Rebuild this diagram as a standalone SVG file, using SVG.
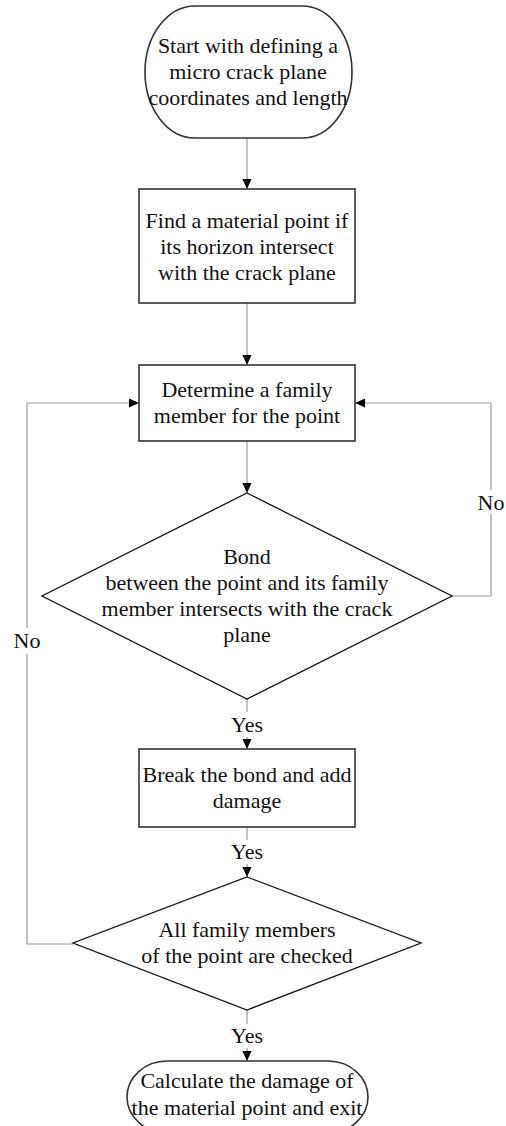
<svg xmlns="http://www.w3.org/2000/svg" width="506" height="1126" viewBox="0 0 506 1126">
<defs>
<marker id="arr" markerUnits="userSpaceOnUse" markerWidth="10" markerHeight="10" refX="10" refY="5" orient="auto">
<path d="M0,0.5 L10,5 L0,9.5 z" fill="#000"/>
</marker>
<style>
.node{fill:#fff;stroke:#333;stroke-width:1.6}
.dia{fill:#fff;stroke:#111;stroke-width:1.3}
.t{font-family:"Liberation Serif","Times New Roman",serif;font-size:22px;fill:#111;text-anchor:middle}
.c{fill:none;stroke:#999;stroke-width:1.2}
.ca{fill:none;stroke:#999;stroke-width:1.2;marker-end:url(#arr)}
</style>
</defs>
<rect width="506" height="1126" fill="#fff"/>
<g id="connectors">
<line class="ca" x1="247" y1="138" x2="247" y2="189"/>
<line class="ca" x1="247" y1="303" x2="247" y2="365"/>
<line class="ca" x1="247" y1="441" x2="247" y2="493"/>
<line class="c" x1="247" y1="699" x2="247" y2="712"/>
<line class="ca" x1="247" y1="737" x2="247" y2="749"/>
<line class="c" x1="247" y1="827" x2="247" y2="840"/>
<line class="ca" x1="247" y1="864" x2="247" y2="877"/>
<line class="c" x1="247" y1="1010" x2="247" y2="1024"/>
<line class="ca" x1="247" y1="1048" x2="247" y2="1061"/>
<polyline class="c" points="452,596 491,596 491,514"/>
<polyline class="ca" points="491,490 491,403 355,403"/>
<polyline class="c" points="73,944 27,944 27,654"/>
<polyline class="ca" points="27,628 27,403 139,403"/>
<text class="t" x="247" y="732">Yes</text>
<text class="t" x="247" y="859">Yes</text>
<text class="t" x="247" y="1043">Yes</text>
<text class="t" x="491" y="510">No</text>
<text class="t" x="27" y="648">No</text>
</g>
<g id="start">
<rect class="node" x="145" y="6" width="207" height="132" rx="50" ry="66"/>
<text class="t" x="248" y="53">Start with defining a</text>
<text class="t" x="248" y="79">micro crack plane</text>
<text class="t" x="248" y="105">coordinates and length</text>
</g>
<g id="find">
<rect class="node" x="139" y="189" width="216" height="114"/>
<text class="t" x="247" y="228">Find a material point if</text>
<text class="t" x="247" y="254">its horizon intersect</text>
<text class="t" x="247" y="280">with the crack plane</text>
</g>
<g id="determine">
<rect class="node" x="139" y="365" width="216" height="76"/>
<text class="t" x="247" y="397">Determine a family</text>
<text class="t" x="247" y="423">member for the point</text>
</g>
<g id="bond">
<polygon class="dia" points="247,493 452,596 247,699 42,596"/>
<text class="t" x="247" y="564">Bond</text>
<text class="t" x="247" y="590">between the point and its family</text>
<text class="t" x="247" y="616">member intersects with the crack</text>
<text class="t" x="247" y="642">plane</text>
</g>
<g id="break">
<rect class="node" x="139" y="749" width="216" height="78"/>
<text class="t" x="247" y="782">Break the bond and add</text>
<text class="t" x="247" y="808">damage</text>
</g>
<g id="checked">
<polygon class="dia" points="247,877 421,943 247,1010 73,943"/>
<text class="t" x="247" y="937">All family members</text>
<text class="t" x="247" y="963">of the point are checked</text>
</g>
<g id="end">
<rect class="node" x="127" y="1061" width="241" height="72" rx="40" ry="36"/>
<text class="t" x="247" y="1088">Calculate the damage of</text>
<text class="t" x="247" y="1115">the material point and exit</text>
</g>
</svg>
